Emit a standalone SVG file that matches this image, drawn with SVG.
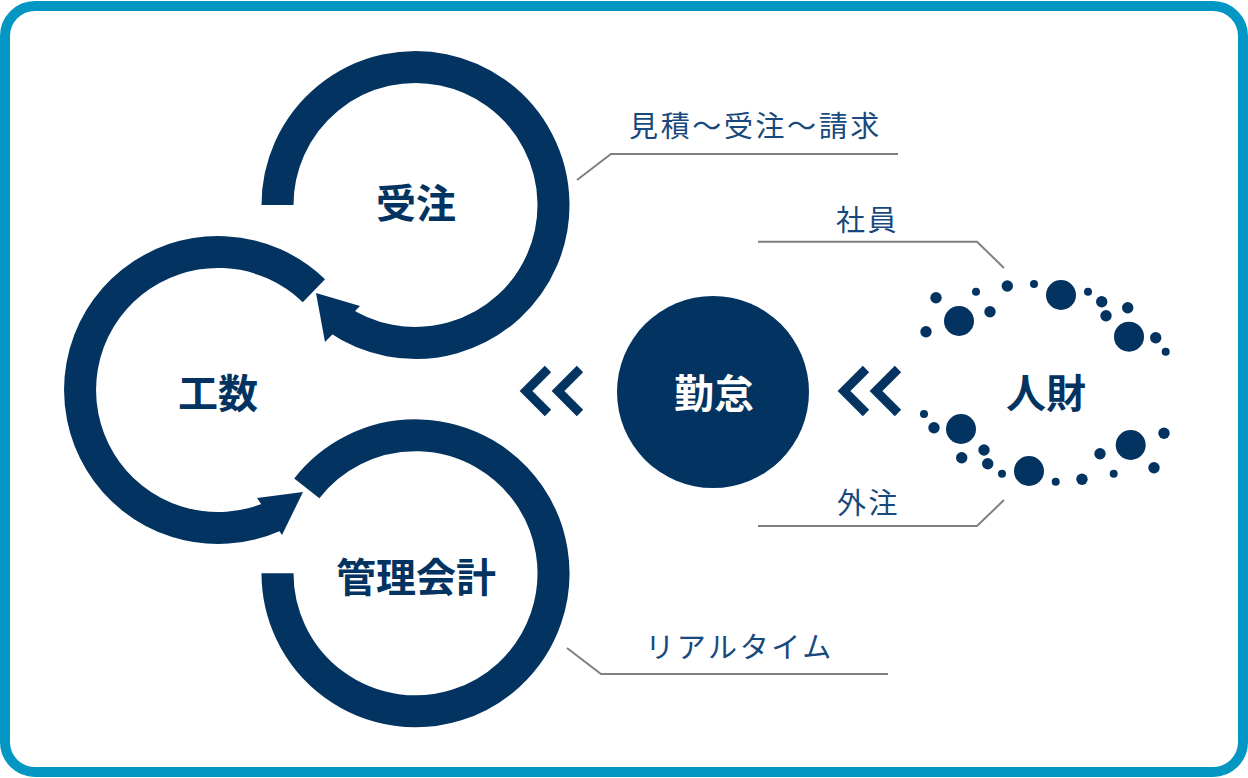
<svg xmlns="http://www.w3.org/2000/svg" width="1248" height="778" viewBox="0 0 1248 778">
<style>
.ring{fill:none;stroke:#033360;stroke-width:32;stroke-linecap:butt}
.head{fill:#033360}
.title{font-family:"Noto Sans CJK JP","Noto Sans",sans-serif;font-weight:700;font-size:40px;fill:#033360;text-anchor:middle;dominant-baseline:central}
.label{font-family:"Noto Sans CJK JP","Noto Sans",sans-serif;font-weight:400;font-size:29px;fill:#17497c;text-anchor:middle;dominant-baseline:central;letter-spacing:2.6px}
.lead{fill:none;stroke:#808080;stroke-width:2}
.chev{fill:none;stroke:#033360;stroke-width:9;stroke-linejoin:miter;stroke-linecap:butt}
.dot{fill:#033360}
</style>
<rect x="5" y="6" width="1238" height="766" rx="30" ry="30" fill="#ffffff" stroke="#0497c4" stroke-width="10"/>

<g id="juchu">
<path class="ring" d="M277.5,205 A138,138 0 1 1 336.3,318"/>
<polygon class="head" points="316,293 360,306 325,342"/>
<text class="title" x="416" y="201">受注</text>
</g>

<g id="kosu">
<path class="ring" d="M313.9,290.7 A138,138 0 1 0 274.1,516.1"/>
<polygon class="head" points="303,492 257,498 282,535"/>
<text class="title" x="218" y="391">工数</text>
</g>

<g id="kanri">
<path class="ring" d="M306.8,488.3 A138,138 0 1 1 277.5,573.3"/>
<text class="title" x="416" y="575">管理会計</text>
</g>

<g id="kintai">
<circle cx="713" cy="392" r="96" fill="#033360"/>
<text class="title" x="714" y="391" style="fill:#ffffff">勤怠</text>
</g>

<g id="jinzai">
<g class="dot">
<circle cx="936" cy="297.7" r="5.7"/>
<circle cx="976" cy="291.7" r="4"/>
<circle cx="1007.3" cy="286" r="5.7"/>
<circle cx="1034" cy="284" r="4"/>
<circle cx="1061" cy="295" r="15"/>
<circle cx="1088" cy="291.7" r="4"/>
<circle cx="1101.7" cy="301.7" r="5.7"/>
<circle cx="1127.7" cy="307.7" r="5.7"/>
<circle cx="1106" cy="315.7" r="5.7"/>
<circle cx="1129" cy="336.7" r="15"/>
<circle cx="1155.7" cy="337.7" r="5.7"/>
<circle cx="1165.7" cy="351.7" r="4"/>
<circle cx="959" cy="321" r="15"/>
<circle cx="990" cy="311.7" r="5.7"/>
<circle cx="926" cy="331.7" r="5.7"/>
<circle cx="924" cy="414" r="4"/>
<circle cx="934" cy="427.7" r="5.7"/>
<circle cx="961" cy="429" r="15"/>
<circle cx="961.7" cy="457.7" r="5.7"/>
<circle cx="984" cy="450" r="5.7"/>
<circle cx="987.7" cy="463.7" r="5.7"/>
<circle cx="1002" cy="473.7" r="4"/>
<circle cx="1029" cy="471" r="15"/>
<circle cx="1055.7" cy="481.7" r="4"/>
<circle cx="1082" cy="479.3" r="5.7"/>
<circle cx="1113.7" cy="473.7" r="4"/>
<circle cx="1100" cy="453.7" r="5.7"/>
<circle cx="1130.7" cy="445" r="15"/>
<circle cx="1154" cy="467.7" r="5.7"/>
<circle cx="1164" cy="433.3" r="5.7"/>
</g>
<text class="title" x="1046" y="391">人財</text>
</g>

<g id="connectors">
<path class="chev" d="M548,369 L526,391 L548,413"/>
<path class="chev" d="M580,369 L558,391 L580,413"/>
<path class="chev" d="M866,369 L844,391 L866,413"/>
<path class="chev" d="M898,369 L876,391 L898,413"/>
<polyline class="lead" points="577,180 611,154 898,154"/>
<polyline class="lead" points="758,241.7 977,241.7 1004,268"/>
<polyline class="lead" points="758,526 977,526 1004,500"/>
<polyline class="lead" points="567,648 601,674 888,674"/>
</g>

<g id="labels">
<text class="label" x="755.5" y="123.5">見積〜受注〜請求</text>
<text class="label" x="867.5" y="218">社員</text>
<text class="label" x="868.5" y="501">外注</text>
<text class="label" x="739.5" y="645">リアルタイム</text>
</g>
</svg>
